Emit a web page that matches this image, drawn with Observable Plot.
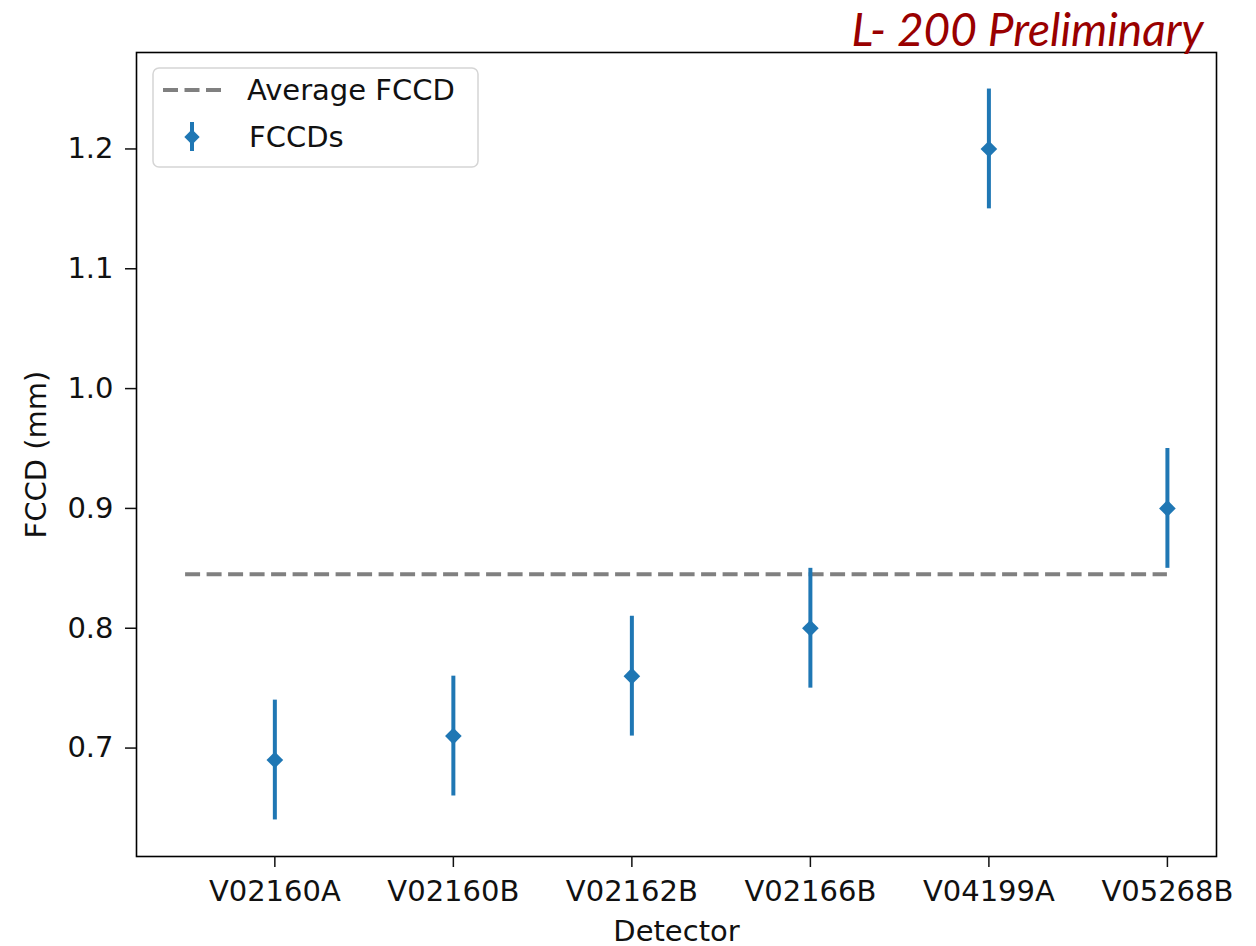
<!DOCTYPE html>
<html><head><meta charset="utf-8">
<script src="https://cdn.jsdelivr.net/npm/d3@7"></script>
<script src="https://cdn.jsdelivr.net/npm/@observablehq/plot@0.6"></script>
<style>
body{margin:0;background:#fff;}
#wrap{position:relative;width:1256px;height:946px;}
#legend{position:absolute;left:152px;top:67px;}
</style></head><body><div id="wrap"></div>
<script>
const detectors = ["V02160A","V02160B","V02162B","V02166B","V04199A","V05268B"];
const fccd = [0.69, 0.71, 0.76, 0.80, 1.20, 0.90];
const fccdErr = [0.05, 0.05, 0.05, 0.05, 0.05, 0.05];
const averageFccd = 0.845;
const averageSpan = [-0.5, 5];
const xDomain = [-0.775, 5.275];
const yDomain = [0.6095, 1.2805];
const yTicks = [0.7, 0.8, 0.9, 1.0, 1.1, 1.2];
const titleText = "L- 200 Preliminary";
const legendLabels = ["Average FCCD", "FCCDs"];

const blue = "#1f77b4";
const rows = detectors.map((d, i) => ({i, name: d, v: fccd[i], e: fccdErr[i]}));
const avgRow = [{y: averageFccd, x1: averageSpan[0], x2: averageSpan[1]}];

const chart = Plot.plot({
  width: 1256, height: 946,
  marginLeft: 136, marginRight: 40, marginTop: 52, marginBottom: 90,
  style: {fontFamily: "DejaVu Sans", fontSize: "29px", color: "#111", background: "#fff"},
  x: {domain: xDomain},
  y: {domain: yDomain},
  marks: [
    Plot.ruleY(avgRow, {y: "y", x1: "x1", x2: "x2", stroke: "#808080", strokeWidth: 4, strokeDasharray: "15,6.5"}),
    Plot.ruleX(rows, {x: "i", y1: d => d.v - d.e, y2: d => d.v + d.e, stroke: blue, strokeWidth: 4}),
    Plot.dot(rows, {x: "i", y: "v", symbol: "diamond2", r: 7.5, fill: blue}),
    Plot.frame({stroke: "#000", strokeWidth: 1.6}),
    Plot.axisX({ticks: rows.map(d => d.i), tickFormat: i => detectors[i], tickSize: 11, tickPadding: 13,
      strokeWidth: 1.5, label: "Detector", labelAnchor: "center", labelOffset: 84, labelArrow: false}),
    Plot.axisY({ticks: yTicks, tickFormat: d3.format(".1f"), tickSize: 11, tickPadding: 12,
      strokeWidth: 1.5, label: "FCCD (mm)", labelAnchor: "center", labelOffset: 111, labelArrow: false}),
    Plot.text([titleText], {frameAnchor: "top-right", dx: -13, dy: -7, lineAnchor: "bottom", textAnchor: "end",
      fontFamily: "Lato", fontStyle: "italic", fontSize: 46, fill: "#990000"})
  ]
});
document.getElementById("wrap").appendChild(chart);

// legend
const lg = d3.select("#wrap").append("svg").attr("id", "legend")
  .attr("width", 330).attr("height", 104);
lg.append("rect").attr("x", 1).attr("y", 1).attr("width", 325).attr("height", 99).attr("rx", 6)
  .attr("fill", "rgba(255,255,255,0.8)").attr("stroke", "#d5d5d5").attr("stroke-width", 1.5);
lg.append("line").attr("x1", 11).attr("x2", 71).attr("y1", 23).attr("y2", 23)
  .attr("stroke", "#808080").attr("stroke-width", 4).attr("stroke-dasharray", "15,6.5");
lg.append("line").attr("x1", 40).attr("x2", 40).attr("y1", 55).attr("y2", 84)
  .attr("stroke", blue).attr("stroke-width", 4);
lg.append("path").attr("d", d3.symbol(d3.symbolDiamond2, 150)()).attr("transform", "translate(40,70)").attr("fill", blue);
lg.selectAll("text.l").data(legendLabels).join("text").attr("class", "l")
  .attr("x", (d, i) => i ? 97 : 95).attr("y", (d, i) => i ? 80 : 33)
  .attr("font-family", "DejaVu Sans").attr("font-size", 29).attr("fill", "#111").text(d => d);
</script></body></html>
